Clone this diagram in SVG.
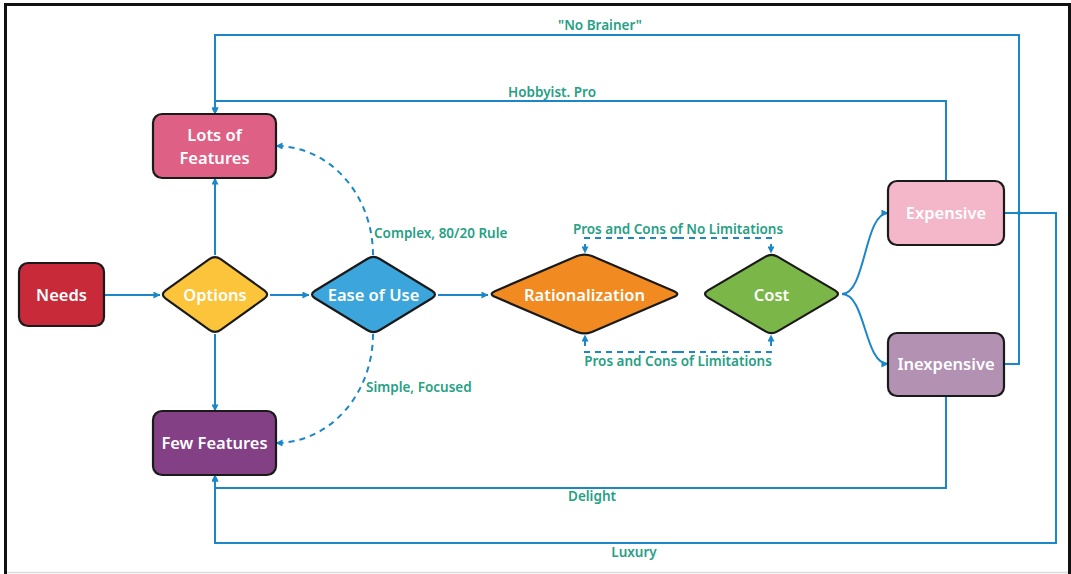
<svg xmlns="http://www.w3.org/2000/svg" width="1071" height="574" viewBox="0 0 1071 574">
<defs>
<style>
.node{stroke:#1a1a1a;stroke-width:2.2;stroke-linejoin:round}
.nt{font-family:"Noto Sans","Open Sans","DejaVu Sans",sans-serif;font-weight:600;font-size:16.5px;fill:#ffffff;text-anchor:middle}
.lbl{font-family:"Noto Sans","Open Sans","DejaVu Sans",sans-serif;font-weight:600;font-size:13.5px;fill:#27a084}
.c{fill:none;stroke:#1b87c9;stroke-width:2}
.d{fill:none;stroke:#1b87c9;stroke-width:2;stroke-dasharray:6,5}
</style>
<marker id="ah" viewBox="0 0 8 8" refX="7.5" refY="4" markerWidth="7" markerHeight="7" markerUnits="userSpaceOnUse" orient="auto">
<path d="M0,0 L8,4 L0,8 z" fill="#1b87c9"/>
</marker>
</defs>
<rect x="0" y="0" width="1071" height="574" fill="#ffffff"/>
<path d="M5.5,574 V4.5 H1069.5 V574" fill="none" stroke="#111" stroke-width="3"/>
<line x1="7" y1="572.5" x2="1068" y2="572.5" stroke="#dddddd" stroke-width="1.5"/>

<g id="connectors">
<line class="c" x1="104" y1="295" x2="160" y2="295" marker-end="url(#ah)"/>
<line class="c" x1="270" y1="295" x2="309" y2="295" marker-end="url(#ah)"/>
<line class="c" x1="438" y1="295" x2="488" y2="295" marker-end="url(#ah)"/>
<line class="c" x1="215" y1="255" x2="215" y2="178" marker-end="url(#ah)"/>
<line class="c" x1="215" y1="334" x2="215" y2="411" marker-end="url(#ah)"/>
<path class="d" d="M373,255 A97,109 0 0 0 276,146" marker-end="url(#ah)"/>
<path class="d" d="M373,334 A97,109 0 0 1 276,443" marker-end="url(#ah)"/>
<path class="d" d="M678,238 H585 V253" marker-end="url(#ah)"/>
<path class="d" d="M678,238 H771 V253" marker-end="url(#ah)"/>
<path class="d" d="M678,352 H585 V335" marker-end="url(#ah)"/>
<path class="d" d="M678,352 H771 V335" marker-end="url(#ah)"/>
<path class="c" d="M842,294 C866,294 864,213 888,213" marker-end="url(#ah)"/>
<path class="c" d="M842,294 C866,294 864,364 888,364" marker-end="url(#ah)"/>
<path class="c" d="M946,181 V101 H215 V114" marker-end="url(#ah)"/>
<path class="c" d="M1004,364 H1019 V35 H215 V114" marker-end="url(#ah)"/>
<path class="c" d="M946,396 V488 H215 V475" marker-end="url(#ah)"/>
<path class="c" d="M1004,213 H1056 V543 H215 V475" marker-end="url(#ah)"/>
<circle cx="1019" cy="213" r="2" fill="#1b87c9"/>
<text class="lbl" x="600" y="30" text-anchor="middle">"No Brainer"</text>
<text class="lbl" x="552" y="97" text-anchor="middle">Hobbyist. Pro</text>
<text class="lbl" x="374" y="238">Complex, 80/20 Rule</text>
<text class="lbl" x="366" y="392">Simple, Focused</text>
<text class="lbl" x="678" y="234" text-anchor="middle">Pros and Cons of No Limitations</text>
<text class="lbl" x="678" y="366" text-anchor="middle">Pros and Cons of Limitations</text>
<text class="lbl" x="592" y="501" text-anchor="middle">Delight</text>
<text class="lbl" x="634" y="557" text-anchor="middle">Luxury</text>
</g>

<g id="needs">
<rect class="node" x="19" y="263" width="85" height="63" rx="9" fill="#c82a3a"/>
<text class="nt" x="61.5" y="300.5">Needs</text>
</g>
<g id="options">
<path class="node" d="M209.3,259.1 Q215,255 220.7,259.1 L264.3,290.4 Q270,294.5 264.3,298.6 L220.7,329.9 Q215,334 209.3,329.9 L165.7,298.6 Q160,294.5 165.7,290.4 Z" fill="#fbc43a"/>
<text class="nt" x="215" y="300.5">Options</text>
</g>
<g id="ease">
<path class="node" d="M367.5,258.7 Q373.5,255 379.5,258.7 L432,290.8 Q438,294.5 432,298.2 L379.5,330.3 Q373.5,334 367.5,330.3 L315,298.2 Q309,294.5 315,290.8 Z" fill="#3ba5dc"/>
<text class="nt" x="373.5" y="300.5">Ease of Use</text>
</g>
<g id="rationalization">
<path class="node" d="M577.1,256.1 Q584.5,253 591.9,256.1 L673.6,290.9 Q681,294 673.6,297.1 L591.9,331.9 Q584.5,335 577.1,331.9 L495.4,297.1 Q488,294 495.4,290.9 Z" fill="#f08a21"/>
<text class="nt" x="584.5" y="300.5">Rationalization</text>
</g>
<g id="cost">
<path class="node" d="M765.5,256.6 Q771.5,253 777.5,256.6 L835,290.4 Q841,294 835,297.6 L777.5,331.4 Q771.5,335 765.5,331.4 L708,297.6 Q702,294 708,290.4 Z" fill="#7ab648"/>
<text class="nt" x="771.5" y="300.5">Cost</text>
</g>
<g id="lots">
<rect class="node" x="153" y="114" width="123" height="64" rx="9" fill="#de6084"/>
<text class="nt" x="214.5" y="141">Lots of</text>
<text class="nt" x="214.5" y="163.5">Features</text>
</g>
<g id="few">
<rect class="node" x="153" y="411" width="123" height="64" rx="9" fill="#844085"/>
<text class="nt" x="214.5" y="449">Few Features</text>
</g>
<g id="expensive">
<rect class="node" x="888" y="181" width="116" height="64" rx="9" fill="#f4b6c9"/>
<text class="nt" x="946" y="219">Expensive</text>
</g>
<g id="inexpensive">
<rect class="node" x="888" y="333" width="116" height="63" rx="9" fill="#b291b3"/>
<text class="nt" x="946" y="370">Inexpensive</text>
</g>
</svg>
